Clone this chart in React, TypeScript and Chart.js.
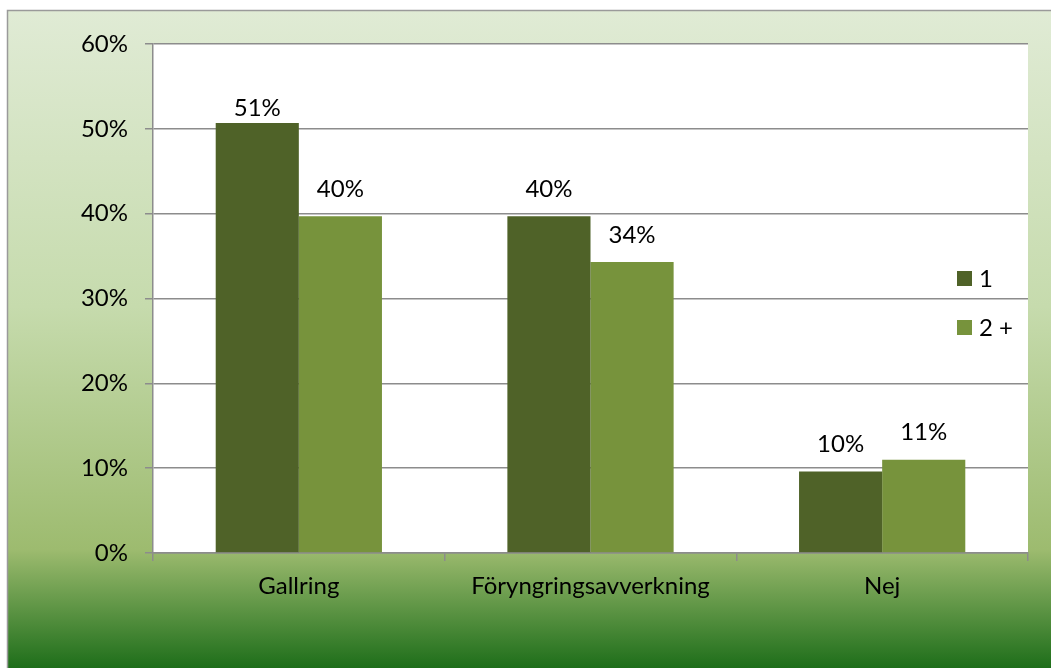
import React, { useEffect, useRef } from "react";
import { Chart, registerables } from "chart.js";

Chart.register(...registerables);

const categories = ["Gallring", "Föryngringsavverkning", "Nej"];
const seriesNames = ["1", "2 +"];
const series1 = [50.7, 39.7, 9.6];
const series2 = [39.7, 34.3, 11.0];
const yTickMin = 0;
const yTickMax = 60;
const yTickStep = 10;

const colors = ["#4f6228", "#77933c"];
const FONT = "Lato, 'Open Sans', sans-serif";
const FSIZE = 24;
const GRID = "#8c8c8c";

const backgroundPlugin = {
  id: "bgPlugin",
  beforeDraw(chart: any) {
    const { ctx, width, height, chartArea } = chart;
    ctx.save();
    ctx.fillStyle = "#ffffff";
    ctx.fillRect(0, 0, width, height);
    const g = ctx.createLinearGradient(0, 10, 0, height);
    g.addColorStop(0, "#e0ebd5");
    g.addColorStop(0.45, "#c6dbad");
    g.addColorStop(0.82, "#9dbb6f");
    g.addColorStop(1, "#1e6e1a");
    ctx.fillStyle = g;
    ctx.fillRect(7, 10, width - 7, height - 10);
    ctx.strokeStyle = "#9a9a9a";
    ctx.lineWidth = 1.5;
    ctx.beginPath();
    ctx.moveTo(7.5, height);
    ctx.lineTo(7.5, 10.5);
    ctx.lineTo(width, 10.5);
    ctx.stroke();
    ctx.fillStyle = "#ffffff";
    ctx.fillRect(
      chartArea.left,
      chartArea.top,
      chartArea.right - chartArea.left,
      chartArea.bottom - chartArea.top
    );
    ctx.restore();
  },
};

const labelPlugin = {
  id: "valueLabels",
  afterDatasetsDraw(chart: any) {
    const { ctx, chartArea } = chart;
    ctx.save();
    ctx.font = `${FSIZE}px ${FONT}`;
    ctx.fillStyle = "#000";
    ctx.textAlign = "center";
    ctx.textBaseline = "middle";
    chart.data.datasets.forEach((ds: any, di: number) => {
      const meta = chart.getDatasetMeta(di);
      meta.data.forEach((el: any, i: number) => {
        const v = ds.data[i];
        const y = Math.max(el.y - 27, chartArea.top + 64);
        ctx.fillText(Math.round(v) + "%", el.x, y);
      });
    });
    ctx.restore();
  },
};

const legendPlugin = {
  id: "customLegend",
  afterDraw(chart: any) {
    const { ctx, chartArea } = chart;
    ctx.save();
    ctx.font = `${FSIZE}px ${FONT}`;
    ctx.textAlign = "left";
    ctx.textBaseline = "middle";
    chart.data.datasets.forEach((ds: any, di: number) => {
      const cy = chartArea.top + 234 + di * 49;
      const x = chartArea.right - 71;
      ctx.fillStyle = ds.backgroundColor;
      ctx.fillRect(x, cy - 7, 15, 15);
      ctx.fillStyle = "#000";
      ctx.fillText(ds.label, x + 22, cy + 1);
    });
    ctx.restore();
  },
};

export default function App() {
  const ref = useRef<HTMLCanvasElement | null>(null);
  useEffect(() => {
    document.body.style.margin = "0";
    if (!ref.current) return;
    const chart = new Chart(ref.current, {
      type: "bar",
      data: {
        labels: categories,
        datasets: [
          {
            label: seriesNames[0],
            data: series1,
            backgroundColor: colors[0],
            borderWidth: 0,
            categoryPercentage: 0.57,
            barPercentage: 1.0,
          },
          {
            label: seriesNames[1],
            data: series2,
            backgroundColor: colors[1],
            borderWidth: 0,
            categoryPercentage: 0.57,
            barPercentage: 1.0,
          },
        ],
      },
      options: {
        animation: false,
        responsive: true,
        maintainAspectRatio: false,
        devicePixelRatio: 1,
        layout: { padding: { top: 44, right: 23, bottom: 0, left: 0 } },
        plugins: {
          legend: { display: false },
          tooltip: { enabled: false },
        },
        scales: {
          x: {
            afterFit(scale: any) {
              scale.height = 115;
            },
            grid: {
              drawOnChartArea: false,
              drawTicks: true,
              tickLength: 8,
              color: GRID,
              lineWidth: 1.5,
              offset: true,
            },
            border: { display: true, color: GRID, width: 1.5 },
            ticks: {
              color: "#000",
              font: { family: FONT, size: FSIZE },
              padding: 11,
              maxRotation: 0,
            },
          },
          y: {
            min: yTickMin,
            max: yTickMax,
            afterFit(scale: any) {
              scale.width = 153;
            },
            grid: {
              color: GRID,
              lineWidth: 1.5,
              tickLength: 8,
              drawTicks: true,
            },
            border: { display: true, color: GRID, width: 1.5 },
            ticks: {
              stepSize: yTickStep,
              color: "#000",
              font: { family: FONT, size: FSIZE },
              padding: 17,
              callback: (v: any) => v + "%",
            },
          },
        },
      },
      plugins: [backgroundPlugin, labelPlugin, legendPlugin],
    });
    return () => chart.destroy();
  }, []);
  return (
    <div style={{ width: 1051, height: 668, position: "relative" }}>
      <canvas ref={ref} />
    </div>
  );
}
